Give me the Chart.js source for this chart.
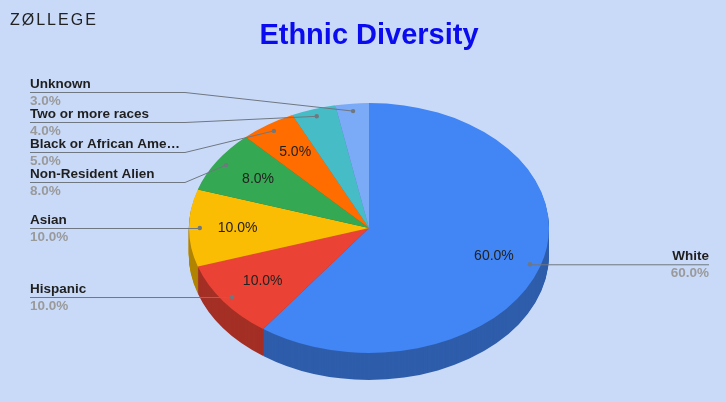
<!DOCTYPE html>
<html>
<head>
<meta charset="utf-8">
<script src="https://cdn.jsdelivr.net/npm/chart.js@4.4.0/dist/chart.umd.min.js"></script>
<style>
  html, body { margin: 0; padding: 0; background: #c9daf8; }
  #wrap { width: 726px; height: 402px; }
</style>
</head>
<body>
<div id="wrap"><canvas id="pieChart" width="726" height="402"></canvas></div>
<script>
// --- data ---
const categories = ['White', 'Hispanic', 'Asian', 'Non-Resident Alien', 'Black or African American', 'Two or more races', 'Unknown'];
const shares = [60, 10, 10, 8, 5, 4, 3];
const sliceColors = ['#4285f4', '#ea4335', '#fbbc04', '#34a853', '#ff6d01', '#46bdc6', '#7baaf7'];

const TILT = 0.694;   // vertical squash to fake the 3d view
const DEPTH = 27;     // side wall thickness in px
const FONT = "'Liberation Sans', Arial, sans-serif";

const total = shares.reduce((a, b) => a + b, 0);
const pct = v => (v / total * 100).toFixed(1) + '%';

function darker(hex, f) {
    const n = parseInt(hex.slice(1), 16);
    const r = Math.round(((n >> 16) & 255) * f);
    const g = Math.round(((n >> 8) & 255) * f);
    const b = Math.round((n & 255) * f);
    return `rgb(${r},${g},${b})`;
}

// push labels apart: overlapping groups get centred on their anchors, then clamped
function spread(items, gap, minY, maxY) {
    items.sort((a, b) => a.ay - b.ay);
    let groups = items.map(it => ({ items: [it] }));
    const place = g => {
        const mean = g.items.reduce((s, it) => s + it.ay, 0) / g.items.length;
        let top = mean - (g.items.length - 1) * gap / 2;
        top = Math.max(top, minY);
        top = Math.min(top, maxY - (g.items.length - 1) * gap);
        g.top = top;
        g.bottom = top + (g.items.length - 1) * gap;
    };
    let merged = true;
    while (merged) {
        merged = false;
        groups.forEach(place);
        for (let i = 0; i < groups.length - 1; i++) {
            if (groups[i].bottom + gap > groups[i + 1].top) {
                groups[i].items = groups[i].items.concat(groups[i + 1].items);
                groups.splice(i + 1, 1);
                merged = true;
                break;
            }
        }
    }
    groups.forEach(g => g.items.forEach((it, k) => { it.y = g.top + k * gap; }));
}

function fitText(ctx, text, maxW) {
    if (ctx.measureText(text).width <= maxW) return text;
    let t = text;
    while (t.length > 1 && ctx.measureText(t + '…').width > maxW) t = t.slice(0, -1);
    return t.trimEnd() + '…';
}

// --- squashed pie with a side wall ---
const tiltPlugin = {
    id: 'tilt',
    beforeDatasetsDraw(chart) {
        const ctx = chart.ctx;
        const arcs = chart.getDatasetMeta(0).data;
        const { x, y } = arcs[0];
        ctx.save();
        ctx.translate(x, y);
        ctx.scale(1, TILT);
        ctx.translate(-x, -y);
        for (let d = DEPTH; d >= 1; d--) {
            arcs.forEach((a, i) => {
                ctx.fillStyle = darker(sliceColors[i], 0.7);
                ctx.beginPath();
                ctx.moveTo(a.x, a.y + d / TILT);
                ctx.arc(a.x, a.y + d / TILT, a.outerRadius, a.startAngle, a.endAngle);
                ctx.closePath();
                ctx.fill();
            });
        }
    },
    afterDatasetsDraw(chart) {
        chart.ctx.restore();
    }
};

// --- logo, inside percentages, leader lines + outside labels ---
const labelPlugin = {
    id: 'sliceLabels',
    afterDraw(chart) {
        const ctx = chart.ctx;
        const arcs = chart.getDatasetMeta(0).data;
        const cx = arcs[0].x, cy = arcs[0].y;
        const pt = (a, f) => {
            const m = (a.startAngle + a.endAngle) / 2;
            return { x: cx + Math.cos(m) * a.outerRadius * f, y: cy + Math.sin(m) * a.outerRadius * TILT * f };
        };
        ctx.save();

        // logo
        ctx.fillStyle = '#222';
        ctx.font = `500 16px ${FONT}`;
        ctx.textAlign = 'left';
        ctx.textBaseline = 'alphabetic';
        ctx.letterSpacing = '2px';
        ctx.fillText('ZØLLEGE', 10, 25);
        ctx.letterSpacing = '0px';

        // percentages on the slices
        ctx.font = `14px ${FONT}`;
        ctx.textAlign = 'center';
        ctx.textBaseline = 'middle';
        ctx.fillStyle = '#222';
        arcs.forEach((a, i) => {
            if (shares[i] / total < 0.05) return;
            const p = pt(a, 0.73);
            ctx.fillText(pct(shares[i]), p.x, p.y);
        });

        // outside labels
        const left = [], right = [];
        arcs.forEach((a, i) => {
            const p = pt(a, 0.94);
            (p.x < cx ? left : right).push({ i, ax: p.x, ay: p.y });
        });
        spread(left, 30, 92, 390);
        spread(right, 30, 92, 390);

        const lineColor = '#6f7780';
        const drawItem = (it, side) => {
            const edgeX = side === 'left' ? 30 : 709;
            const bendX = side === 'left' ? 185 : 560;
            ctx.strokeStyle = lineColor;
            ctx.lineWidth = 1;
            ctx.beginPath();
            ctx.moveTo(edgeX, it.y + 0.5);
            if (Math.abs(it.y - it.ay) < 0.5) {
                ctx.lineTo(it.ax, it.y + 0.5);
            } else {
                ctx.lineTo(bendX, it.y + 0.5);
                ctx.lineTo(it.ax, it.ay);
            }
            ctx.stroke();
            ctx.fillStyle = lineColor;
            ctx.beginPath();
            ctx.arc(it.ax, it.ay, 2.2, 0, Math.PI * 2);
            ctx.fill();

            ctx.textAlign = side === 'left' ? 'left' : 'right';
            ctx.textBaseline = 'alphabetic';
            ctx.font = `bold 13.5px ${FONT}`;
            ctx.fillStyle = '#1f1f1f';
            ctx.fillText(fitText(ctx, categories[it.i], 152), edgeX, it.y - 4);
            ctx.fillStyle = '#9a9a9a';
            ctx.fillText(pct(shares[it.i]), edgeX, it.y + 13);
        };
        left.forEach(it => drawItem(it, 'left'));
        right.forEach(it => drawItem(it, 'right'));

        ctx.restore();
    }
};

const ctx = document.getElementById('pieChart').getContext('2d');
const pieChart = new Chart(ctx, {
    type: 'pie',
    data: {
        labels: categories,
        datasets: [{
            data: shares,
            backgroundColor: sliceColors,
            borderWidth: 0,
            radius: 180,
            clip: 300
        }]
    },
    options: {
        responsive: false,
        devicePixelRatio: 1,
        animation: false,
        events: [],
        layout: { padding: { left: 189, right: 177, top: 0, bottom: 46 } },
        plugins: {
            legend: { display: false },
            tooltip: { enabled: false },
            title: {
                display: true,
                text: 'Ethnic Diversity',
                color: '#0b0bf0',
                font: { family: FONT, size: 29, weight: 'bold', lineHeight: 1.2 },
                padding: { top: 18.6, bottom: 46.6 }
            }
        }
    },
    plugins: [tiltPlugin, labelPlugin]
});
</script>
</body>
</html>
